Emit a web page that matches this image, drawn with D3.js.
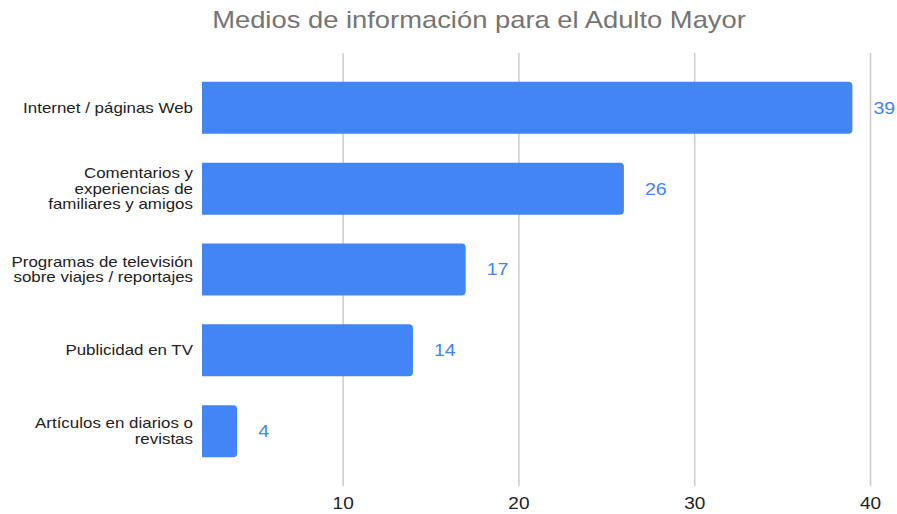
<!DOCTYPE html>
<html>
<head>
<meta charset="utf-8">
<script src="https://cdn.jsdelivr.net/npm/d3@7"></script>
<style>
  body { margin: 0; background: #fff; }
  text { font-family: "Liberation Sans", Arial, sans-serif; }
</style>
</head>
<body>
<div id="chart"></div>
<script>
// datos
var categorias = [
  ["Internet / páginas Web"],
  ["Comentarios y", "experiencias de", "familiares y amigos"],
  ["Programas de televisión", "sobre viajes / reportajes"],
  ["Publicidad en TV"],
  ["Artículos en diarios o", "revistas"]
];
var valores = [39, 26, 17, 14, 4];
var ticks = [10, 20, 30, 40];
var titulo = "Medios de información para el Adulto Mayor";

var W = 897, H = 514,
    mTop = 53, mBottom = 486,
    mLeft = 202, mRight = 870,
    sx = 1.19;   // el texto original sale algo ensanchado

var svg = d3.select("#chart").append("svg")
  .attr("width", W)
  .attr("height", H);

svg.append("text")
  .attr("transform", "translate(479,28) scale(" + sx + ",1)")
  .attr("text-anchor", "middle")
  .attr("fill", "#757575")
  .style("font-size", "23px")
  .text(titulo);

var x = d3.scaleLinear().domain([2, 40]).range([mLeft, mRight]);
var y = d3.scaleBand()
  .domain(d3.range(valores.length))
  .range([mTop, mBottom])
  .padding(0.357);

//------------- grid + eje
var eje = svg.append("g")
  .attr("transform", "translate(0," + mBottom + ")")
  .call(d3.axisBottom(x).tickValues(ticks).tickSize(-(mBottom - mTop)).tickPadding(11));

eje.select(".domain").remove();
eje.selectAll(".tick line").attr("stroke", "#cccccc").attr("stroke-width", 1.5);
eje.selectAll(".tick text")
  .attr("fill", "#222")
  .attr("transform", "scale(1.12,1)")
  .style("font-size", "17px");

//------------- barras (esquinas derechas redondeadas)
function barPath(x0, y0, w, h, r) {
  r = Math.min(r, w);
  return "M" + x0 + "," + y0 +
    "H" + (x0 + w - r) +
    "Q" + (x0 + w) + "," + y0 + " " + (x0 + w) + "," + (y0 + r) +
    "V" + (y0 + h - r) +
    "Q" + (x0 + w) + "," + (y0 + h) + " " + (x0 + w - r) + "," + (y0 + h) +
    "H" + x0 + "Z";
}

svg.append("g").selectAll("path")
  .data(valores)
  .enter()
    .append("path")
    .attr("fill", "#4285f4")
    .attr("d", (d, i) => barPath(x(2), y(i), x(d) - x(2), y.bandwidth(), 4));

svg.append("g").selectAll("text")
  .data(valores)
  .enter()
    .append("text")
    .attr("transform", (d, i) => "translate(" + (x(d) + 21) + "," + (y(i) + y.bandwidth() / 2) + ") scale(1.15,1)")
    .attr("dy", "0.35em")
    .attr("fill", "#4285f4")
    .style("font-size", "17px")
    .text(d => d);

//------------- etiquetas de categoria
var etiquetas = svg.append("g").selectAll("text")
  .data(categorias)
  .enter()
    .append("text")
    .attr("text-anchor", "end")
    .attr("fill", "#222")
    .style("font-size", "14px")
    .attr("transform", (d, i) => "translate(193," + (y(i) + y.bandwidth() / 2) + ") scale(1.21,1)");

etiquetas.selectAll("tspan")
  .data(d => d.map((t, j) => ({ t: t, j: j, n: d.length })))
  .enter()
    .append("tspan")
    .attr("x", 0)
    .attr("dy", (d) => d.j === 0 ? (0.35 - (d.n - 1) * 0.55) + "em" : "1.1em")
    .text(d => d.t);
</script>
</body>
</html>
